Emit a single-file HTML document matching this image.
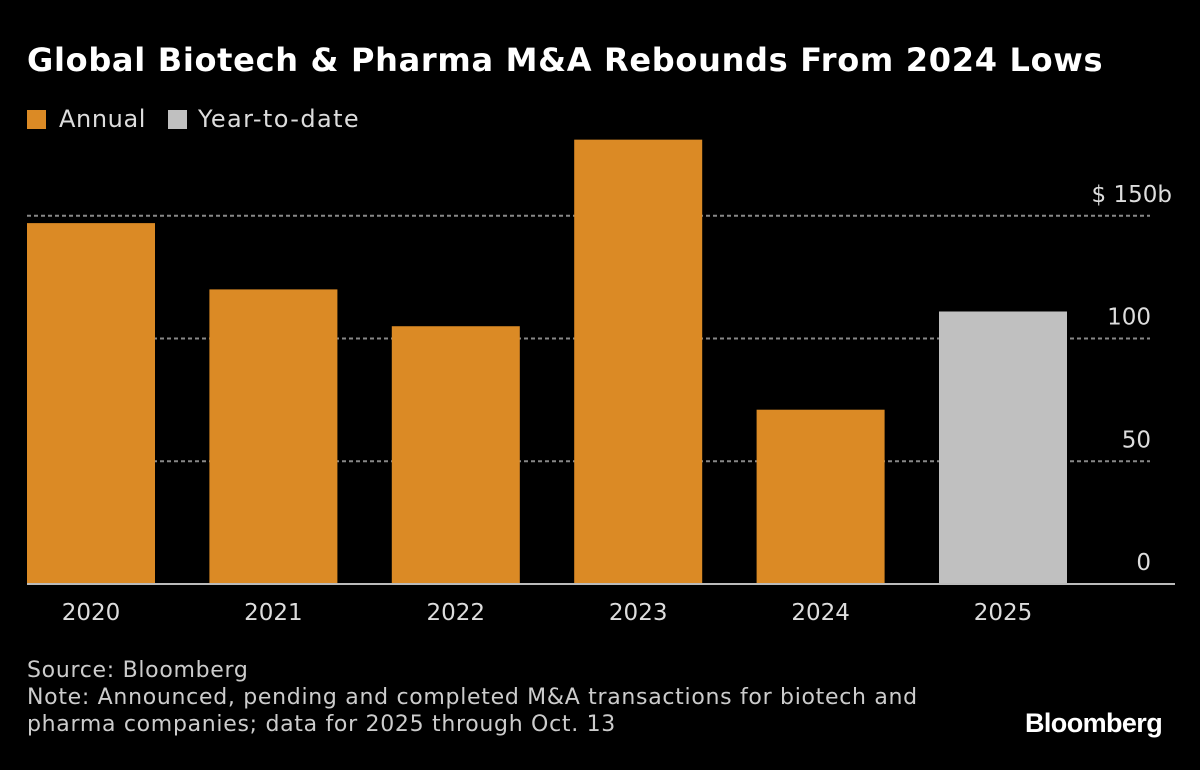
<!DOCTYPE html>
<html><head><meta charset="utf-8"><style>
body{margin:0;background:#000;width:1200px;height:770px;overflow:hidden;font-family:"DejaVu Sans",sans-serif;color:#fff}
.t{position:absolute;white-space:nowrap}
</style></head><body>
<div class="t" style="left:27px;top:41px;font-size:32px;letter-spacing:0.7px;font-weight:bold">Global Biotech &amp; Pharma M&amp;A Rebounds From 2024 Lows</div>
<div class="t" style="left:27px;top:105px;font-size:24px;letter-spacing:0.6px;color:#ddd"><span style="display:inline-block;width:19px;height:19px;background:#DB8A25;vertical-align:-2px;margin-right:13px"></span>Annual</div>
<div class="t" style="left:168px;top:105px;font-size:24px;letter-spacing:1.4px;color:#ddd"><span style="display:inline-block;width:19px;height:19px;background:#C0C0C0;vertical-align:-2px;margin-right:11px"></span>Year-to-date</div>
<svg class="t" style="left:0;top:0" width="1200" height="770" id="chart"></svg>
<div class="t" style="left:27px;top:657px;font-size:22px;letter-spacing:0.7px;line-height:27px;color:#ccc">Source: Bloomberg<br>Note: Announced, pending and completed M&amp;A transactions for biotech and<br>pharma companies; data for 2025 through Oct. 13</div>
<div class="t" style="left:1025px;top:708px;font-size:27px;font-weight:bold;letter-spacing:-0.6px;font-family:'Liberation Sans',sans-serif">Bloomberg</div>
<script>
const categories=["2020","2021","2022","2023","2024","2025"];
const values=[147,120,105,181,71,111];
const ytd=[false,false,false,false,false,true];
const ticks=[0,50,100,150];
const tickLabels=["0","50","100","$ 150b"];
const svg=document.getElementById('chart');
const NS="http://www.w3.org/2000/svg";
const y=v=>584-v*2.455;
const x=i=>27+i*182.4;
function mk(t,a){const e=document.createElementNS(NS,t);for(const k in a)e.setAttribute(k,a[k]);svg.appendChild(e);return e;}
ticks.forEach((t,i)=>{
 if(t>0){const l=mk('line',{x1:27,x2:1150,y1:y(t),y2:y(t),stroke:'#888','stroke-width':2,'stroke-dasharray':'4,3'});
 
 }
 const tx=mk('text',{x:t==150?1172:1151,y:y(t)-14,'text-anchor':'end',fill:'#ddd','font-size':23,'font-family':'DejaVu Sans'});
 tx.textContent=tickLabels[i];
 
 
});
values.forEach((v,i)=>{
 const r=mk('rect',{x:x(i),y:y(v),width:128,height:584-y(v),fill:ytd[i]?'#C0C0C0':'#DB8A25'});
 
 
 const tx=mk('text',{x:x(i)+64,y:620,'text-anchor':'middle',fill:'#ddd','font-size':23,'font-family':'DejaVu Sans'});
 tx.textContent=categories[i];
 
 
});
const b=mk('line',{x1:27,x2:1175,y1:584,y2:584,stroke:'#bbb','stroke-width':2});


</script>
</body></html>
